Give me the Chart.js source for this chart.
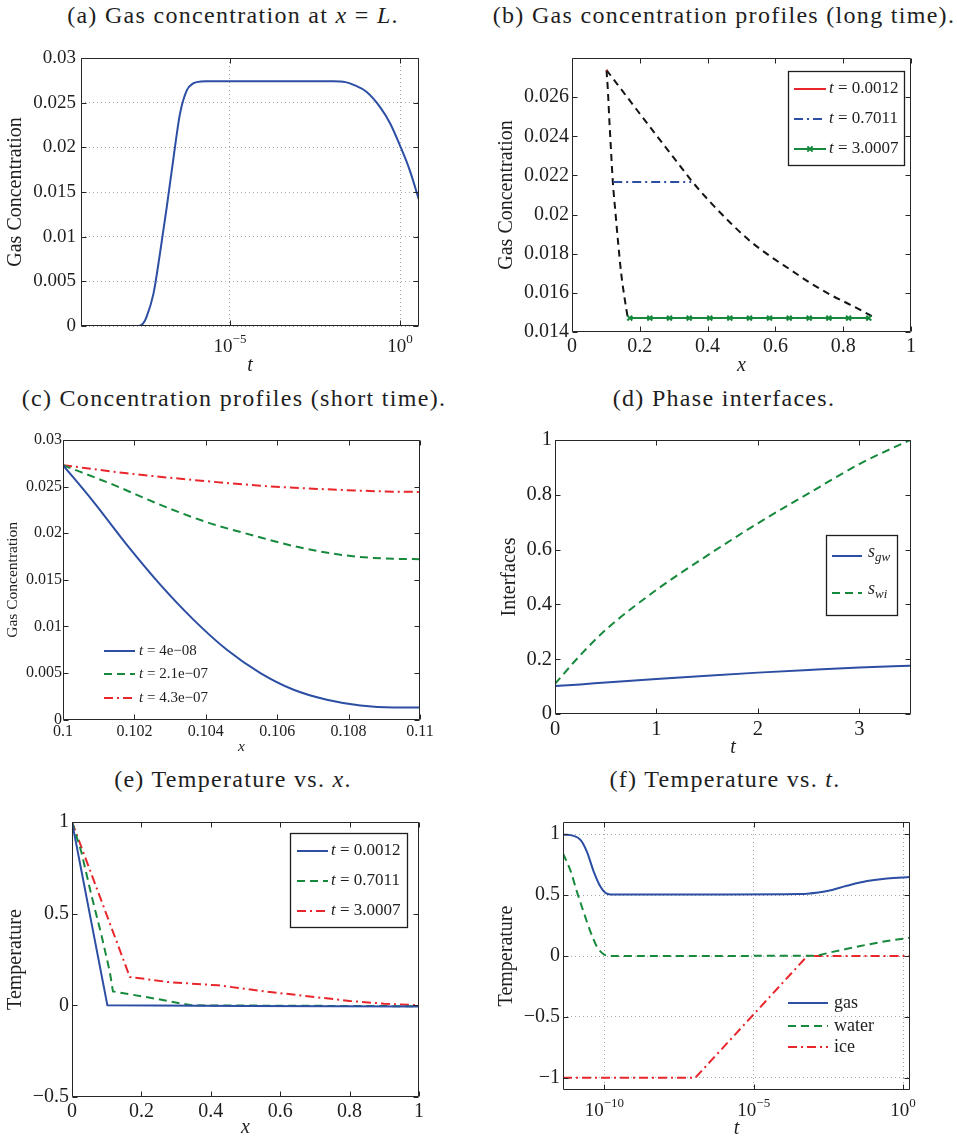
<!DOCTYPE html>
<html>
<head>
<meta charset="utf-8">
<title>Gas hydrate model results</title>
<script src="https://cdn.jsdelivr.net/npm/chart.js@4.4.1/dist/chart.umd.min.js"></script>
<style>
  body { margin: 0; background: #fff; }
  #fig { position: relative; width: 957px; height: 1139px; overflow: hidden; color: #1e1e1e; }
  .ttl, .ttl i { font-family: "Liberation Serif", "DejaVu Serif", serif !important; }
  .ttl { position: absolute; width: 480px; text-align: center; font-size: 24px;
         line-height: 24px; letter-spacing: 1.3px; white-space: nowrap; color: #1e1e1e; }
  canvas { position: absolute; }
</style>
</head>
<body>
<div id="fig">
  <div class="ttl" style="left:-7px;top:3px">(a) Gas concentration at <i>x</i> = <i>L</i>.</div>
  <div class="ttl" style="left:484px;top:3px">(b) Gas concentration profiles (long time).</div>
  <div class="ttl" style="left:-6px;top:386px">(c) Concentration profiles (short time).</div>
  <div class="ttl" style="left:484px;top:386px">(d) Phase interfaces.</div>
  <div class="ttl" style="left:-7px;top:767px">(e) Temperature vs. <i>x</i>.</div>
  <div class="ttl" style="left:485px;top:767px">(f) Temperature vs. <i>t</i>.</div>
  <canvas id="chartA"></canvas>
  <canvas id="chartB"></canvas>
  <canvas id="chartC"></canvas>
  <canvas id="chartD"></canvas>
  <canvas id="chartE"></canvas>
  <canvas id="chartF"></canvas>
</div>
<script>
Chart.defaults.font.family = '"Liberation Serif", "Times New Roman", serif';
Chart.defaults.color = "#1e1e1e";

const BLUE = "#2c4ea3", GREEN = "#16893c", RED = "#e8262b", BLACK = "#141414";
const DASH = [8, 5], DASHDOT = [9, 4, 2, 4], BLACKDASH = [7, 5];

// (a) gas concentration at the far end, log time
const aTime = [4.1e-10, 6.3e-9, 2.0e-8, 2.8e-8, 3.5e-8, 5.6e-8, 8.7e-8, 1.38e-7, 2.14e-7, 3.4e-7,
               5.4e-7, 7.9e-7, 1.05e-6, 2.0e-6, 1.1e-2, 2.5e-2, 4.3e-2, 0.105, 0.26, 0.51, 1.0, 1.95, 3.62];
const aConc = [0, 0, 0, 0.0003, 0.0010, 0.0036, 0.0081, 0.0133, 0.0186, 0.0238,
               0.0264, 0.0271, 0.0273, 0.0274, 0.0274, 0.0273, 0.0270, 0.0262, 0.0245, 0.0227, 0.0202, 0.0174, 0.0141];
const aTicksX = [1e-5, 1];
const aTicksY = [0, 0.005, 0.01, 0.015, 0.02, 0.025, 0.03];

// (b) long-time profiles plus the two black envelopes
const bEnvLeftX = [0.1018, 0.1057, 0.1106, 0.1155, 0.1205, 0.1283, 0.1362, 0.1450, 0.1558, 0.1647];
const bEnvLeftY = [0.02738, 0.02639, 0.02468, 0.02315, 0.02165, 0.02008, 0.01854, 0.01701, 0.01565, 0.01471];
const bEnvRightX = [0.1018, 0.1333, 0.1923, 0.2513, 0.3103, 0.3516, 0.4086, 0.4676, 0.5265, 0.5855,
                    0.6445, 0.7035, 0.7625, 0.8215, 0.8953];
const bEnvRightY = [0.02738, 0.02667, 0.02533, 0.024, 0.02268, 0.02175, 0.02062, 0.01957, 0.01863, 0.01786,
                    0.01718, 0.0165, 0.0159, 0.01539, 0.01471];
const bShortX = [0.1018, 0.1047];
const bShortY = [0.02738, 0.02736];
const bMidX = [0.1215, 0.3516];
const bMidY = [0.02167, 0.02167];
const bLongX = [0.1705, 0.2295, 0.2876, 0.3457, 0.4065, 0.4655, 0.5236, 0.5826, 0.6407, 0.6997, 0.7577, 0.8159, 0.8755];
const bLongY = [0.01471, 0.01471, 0.01471, 0.01471, 0.01471, 0.01471, 0.01471, 0.01471, 0.01471, 0.01471, 0.01471, 0.01471, 0.01471];
const bTimes = ["0.0012", "0.7011", "3.0007"];
const bTicksX = [0, 0.2, 0.4, 0.6, 0.8, 1];
const bTicksY = [0.014, 0.016, 0.018, 0.02, 0.022, 0.024, 0.026];

// (c) short-time profiles near the interface
const cBlueX = [0.1, 0.10085, 0.10179, 0.10273, 0.10366, 0.10459, 0.10553, 0.10646, 0.10739, 0.10833, 0.10927, 0.11];
const cBlueY = [0.0273, 0.02339, 0.01875, 0.01446, 0.01071, 0.0075, 0.005, 0.00321, 0.00214, 0.00153, 0.00132, 0.00132];
const cGreenX = [0.1, 0.10142, 0.10273, 0.10403, 0.10534, 0.10665, 0.10796, 0.10926, 0.11];
const cGreenY = [0.0273, 0.02518, 0.02304, 0.02118, 0.01975, 0.01846, 0.0176, 0.01725, 0.01722];
const cRedX = [0.1, 0.10179, 0.10366, 0.10553, 0.10739, 0.10926, 0.11];
const cRedY = [0.0273, 0.02643, 0.02571, 0.0251, 0.02471, 0.02446, 0.02443];
const cTimes = ["4e\u221208", "2.1e\u221207", "4.3e\u221207"];
const cTicksX = [0.1, 0.102, 0.104, 0.106, 0.108, 0.11];
const cTicksY = [0, 0.005, 0.01, 0.015, 0.02, 0.025, 0.03];

// (d) interface positions
const dTime = [0, 0.25, 0.5, 1, 1.5, 2, 2.5, 3, 3.5];
const dGw = [0.102, 0.108, 0.115, 0.128, 0.140, 0.151, 0.161, 0.170, 0.176];
const dWi = [0.11, 0.215, 0.307, 0.453, 0.578, 0.696, 0.805, 0.912, 1.0];
const dNames = [["s", "gw"], ["s", "wi"]];
const dTicksX = [0, 1, 2, 3];
const dTicksY = [0, 0.2, 0.4, 0.6, 0.8, 1];

// (e) temperature profiles
const eBlueX = [0, 0.102, 0.5, 1];
const eBlueY = [1, 0, -0.003, -0.006];
const eGreenX = [0, 0.027, 0.056, 0.085, 0.109, 0.118, 0.229, 0.344, 0.6, 1];
const eGreenY = [1, 0.836, 0.6, 0.382, 0.182, 0.076, 0.04, 0.0, -0.002, -0.005];
const eRedX = [0, 0.018, 0.056, 0.095, 0.133, 0.1665, 0.277, 0.421, 0.556, 0.7, 0.8, 0.9, 1];
const eRedY = [1, 0.909, 0.716, 0.518, 0.326, 0.155, 0.127, 0.109, 0.076, 0.045, 0.024, 0.009, 0.0];
const eTimes = ["0.0012", "0.7011", "3.0007"];
const eTicksX = [0, 0.2, 0.4, 0.6, 0.8, 1];
const eTicksY = [-0.5, 0, 0.5, 1];

// (f) phase temperatures against log time
const fGasT = [4.1e-12, 9.3e-12, 1.6e-11, 2.6e-11, 4.4e-11, 7.4e-11, 1.07e-10, 1.6e-10, 1e-6, 3.2e-4,
               6.2e-4, 2.9e-3, 1.3e-2, 6.2e-2, 0.29, 1.8];
const fGas = [0.997, 0.986, 0.951, 0.855, 0.691, 0.568, 0.519, 0.505, 0.505, 0.508,
              0.511, 0.533, 0.576, 0.615, 0.637, 0.648];
const fWaterT = [4.1e-12, 7.2e-12, 1.2e-11, 2.0e-11, 3.4e-11, 5.6e-11, 9.5e-11, 1.6e-10, 1.0e-3, 4.8e-3, 3.7e-2, 0.29, 1.8];
const fWater = [0.842, 0.705, 0.527, 0.363, 0.2, 0.077, 0.014, 0.0, 0.003, 0.036, 0.082, 0.123, 0.15];
const fIceT = [4.1e-12, 1.1e-7, 6.2e-4, 1.8];
const fIce = [-1, -1, 0, 0];
const fNames = ["gas", "water", "ice"];
const fTicksX = [1e-10, 1e-5, 1];
const fTicksY = [-1, -0.5, 0, 0.5, 1];

const fmt = v => String(Math.round(v * 1e6) / 1e6).replace("-", "\u2212");
const pts = (xs, ys) => xs.map((x, i) => ({ x, y: ys[i] }));
function series(xs, ys, color, dash, smooth, extra) {
  return Object.assign({
    data: pts(xs, ys), borderColor: color, backgroundColor: color, borderWidth: 2,
    borderDash: dash || [], pointRadius: 0, fill: false,
    cubicInterpolationMode: smooth ? "monotone" : "default", tension: 0
  }, extra || {});
}

// legend layouts, keyed by canvas id
const legends = {};

// MATLAB style box with inward ticks on all four sides
const framePlugin = {
  id: "frame",
  afterDatasetsDraw(chart) {
    const { ctx, chartArea: a, scales: { x, y } } = chart;
    const L = Math.round(a.left) + 0.5, R = Math.round(a.right) - 0.5;
    const T = Math.round(a.top) + 0.5, B = Math.round(a.bottom) - 0.5;
    ctx.save();
    ctx.strokeStyle = "#262626";
    ctx.lineWidth = 1;
    ctx.beginPath();
    ctx.rect(L, T, R - L, B - T);
    x.ticks.forEach(t => {
      const p = Math.round(x.getPixelForValue(t.value)) + 0.5;
      ctx.moveTo(p, B); ctx.lineTo(p, B - 5);
      ctx.moveTo(p, T); ctx.lineTo(p, T + 5);
    });
    y.ticks.forEach(t => {
      const p = Math.round(y.getPixelForValue(t.value)) + 0.5;
      ctx.moveTo(L, p); ctx.lineTo(L + 5, p);
      ctx.moveTo(R, p); ctx.lineTo(R - 5, p);
    });
    ctx.stroke();
    ctx.restore();
  }
};

// 10^n labels under logarithmic axes
const decadePlugin = {
  id: "decades",
  afterDraw(chart) {
    const x = chart.scales.x;
    if (x.type !== "logarithmic") return;
    const { ctx, chartArea } = chart;
    const base = chartArea.bottom + 26;
    const big = '19px "Liberation Serif"', small = '13px "Liberation Serif"';
    ctx.save();
    ctx.fillStyle = "#1e1e1e";
    ctx.textBaseline = "alphabetic";
    ctx.textAlign = "left";
    x.ticks.forEach(t => {
      const e = Math.round(Math.log10(t.value));
      const sup = e < 0 ? "\u2212" + (-e) : String(e);
      ctx.font = big; const wb = ctx.measureText("10").width;
      ctx.font = small; const we = ctx.measureText(sup).width;
      const left = x.getPixelForValue(t.value) - (wb + we) / 2;
      ctx.font = big; ctx.fillText("10", left, base);
      ctx.font = small; ctx.fillText(sup, left + wb, base - 9);
    });
    ctx.restore();
  }
};

// line-sample legend drawn from each dataset's own style
const legendPlugin = {
  id: "lineLegend",
  afterDraw(chart) {
    const spec = legends[chart.canvas.id];
    if (!spec) return;
    const { ctx, chartArea: a } = chart;
    const ox = Math.round(a.left + spec.at[0]), oy = Math.round(a.top + spec.at[1]);
    ctx.save();
    if (spec.box) {
      ctx.fillStyle = "#fff";
      ctx.fillRect(ox, oy, spec.box[0], spec.box[1]);
      ctx.strokeStyle = "#1e1e1e";
      ctx.lineWidth = 1.3;
      ctx.strokeRect(ox + 0.5, oy + 0.5, spec.box[0], spec.box[1]);
    }
    spec.entries.forEach((ent, i) => {
      const ds = chart.data.datasets[ent.ds];
      const ry = oy + spec.rows[i];
      ctx.strokeStyle = ds.borderColor;
      ctx.lineWidth = ds.borderWidth;
      ctx.setLineDash(ds.borderDash || []);
      ctx.beginPath();
      ctx.moveTo(ox + spec.line[0], ry);
      ctx.lineTo(ox + spec.line[1], ry);
      ctx.stroke();
      ctx.setLineDash([]);
      if (ds.pointRadius > 0) {
        const cx = ox + (spec.line[0] + spec.line[1]) / 2, r = ds.pointRadius * 0.75;
        ctx.lineWidth = ds.pointBorderWidth;
        ctx.beginPath();
        ctx.moveTo(cx - r, ry - r); ctx.lineTo(cx + r, ry + r);
        ctx.moveTo(cx - r, ry + r); ctx.lineTo(cx + r, ry - r);
        ctx.stroke();
      }
      let tx = ox + spec.textX;
      ctx.fillStyle = "#1e1e1e";
      ctx.textBaseline = "middle";
      ent.parts.forEach(([txt, st]) => {
        const sub = st === "sub";
        const size = sub ? spec.size * 0.72 : spec.size;
        ctx.font = (st ? "italic " : "") + size + 'px "Liberation Serif"';
        ctx.fillText(txt, tx, ry + (spec.dy || 0) + (sub ? spec.size * 0.3 : 0));
        tx += ctx.measureText(txt).width;
      });
    });
    ctx.restore();
  }
};

Chart.register(framePlugin, decadePlugin, legendPlugin);

function buildChart(id, g, datasets, ax) {
  const canvas = document.getElementById(id);
  const left = g.col === 0 ? 0 : 479, top = g.T - 30;
  const scaleLeft = g.yTitleX - 0.6 * g.titleSize;
  const scaleBottom = g.xTitleY + 0.6 * g.titleSize;
  canvas.width = 478;
  canvas.height = Math.round(scaleBottom - top);
  canvas.style.left = left + "px";
  canvas.style.top = top + "px";
  const axis = (o, isX) => ({
    type: o.type || "linear",
    min: o.min,
    max: o.max,
    afterBuildTicks: s => { s.ticks = o.ticks.map(v => ({ value: v })); },
    afterFit: s => {
      if (isX) s.height = scaleBottom - g.B;
      else s.width = g.L - scaleLeft;
    },
    grid: o.grid ? { color: "#a8a8a8", lineWidth: 1, drawTicks: false, tickLength: 0 }
                 : { display: false, drawTicks: false, tickLength: 0 },
    border: { display: false, dash: [1, 3] },
    ticks: {
      display: o.type !== "logarithmic",
      font: { size: g.tickSize },
      color: "#1e1e1e",
      padding: isX ? g.padX : g.padY,
      autoSkip: false,
      maxRotation: 0,
      callback: v => fmt(v)
    },
    title: {
      display: true, text: o.title, padding: 0, color: "#1e1e1e",
      font: { size: g.titleSize, style: isX ? "italic" : "normal" }
    }
  });
  return new Chart(canvas, {
    type: "line",
    data: { datasets },
    options: {
      responsive: false,
      animation: false,
      events: [],
      layout: { padding: { left: scaleLeft - left, top: 30, right: left + 478 - g.R, bottom: 0 } },
      plugins: { legend: { display: false }, tooltip: { enabled: false } },
      scales: { x: axis(ax.x, true), y: axis(ax.y, false) }
    }
  });
}

// (a)
buildChart("chartA",
  { col: 0, L: 81, T: 58, R: 419, B: 326, yTitleX: 16, xTitleY: 366, titleSize: 20, tickSize: 19, padX: 3, padY: 5 },
  [series(aTime, aConc, BLUE, [], true)],
  { x: { type: "logarithmic", min: 4.15e-10, max: 3.62, ticks: aTicksX, grid: true, title: "t" },
    y: { min: 0, max: 0.03, ticks: aTicksY, grid: true, title: "Gas Concentration" } });

// (b)
legends.chartB = {
  at: [216, 13], box: [116, 94], line: [6, 38], textX: 41, rows: [18, 48, 78], size: 17,
  entries: bTimes.map((t, i) => ({ ds: i, parts: [["t", "i"], [" = " + t, ""]] }))
};
buildChart("chartB",
  { col: 1, L: 572, T: 58, R: 911, B: 332, yTitleX: 507, xTitleY: 366, titleSize: 20, tickSize: 20, padX: 3, padY: 3 },
  [series(bShortX, bShortY, RED, [], false),
   series(bMidX, bMidY, BLUE, DASHDOT, false),
   series(bLongX, bLongY, GREEN, [], false,
          { pointRadius: 3.5, pointStyle: "crossRot", pointBorderWidth: 2, pointBorderColor: GREEN }),
   series(bEnvLeftX, bEnvLeftY, BLACK, BLACKDASH, true),
   series(bEnvRightX, bEnvRightY, BLACK, BLACKDASH, true)],
  { x: { min: 0, max: 1, ticks: bTicksX, title: "x" },
    y: { min: 0.014, max: 0.028, ticks: bTicksY, title: "Gas Concentration" } });

// (c)
legends.chartC = {
  at: [0, 0], line: [41, 72], textX: 76, rows: [211, 234, 258], size: 15,
  entries: cTimes.map((t, i) => ({ ds: i, parts: [["t", "i"], [" = " + t, ""]] }))
};
buildChart("chartC",
  { col: 0, L: 63, T: 440, R: 420, B: 720, yTitleX: 13, xTitleY: 747, titleSize: 15.5, tickSize: 16, padX: 2, padY: 1 },
  [series(cBlueX, cBlueY, BLUE, [], true),
   series(cGreenX, cGreenY, GREEN, DASH, true),
   series(cRedX, cRedY, RED, DASHDOT, true)],
  { x: { min: 0.1, max: 0.11, ticks: cTicksX, title: "x" },
    y: { min: 0, max: 0.03, ticks: cTicksY, title: "Gas Concentration" } });

// (d)
legends.chartD = {
  at: [271, 95], box: [71, 80], line: [6, 36], textX: 42, rows: [21, 58], size: 18, dy: -4,
  entries: dNames.map((n, i) => ({ ds: i, parts: [[n[0], "i"], [n[1], "sub"]] }))
};
buildChart("chartD",
  { col: 1, L: 555, T: 440, R: 911, B: 714, yTitleX: 510, xTitleY: 748, titleSize: 20, tickSize: 20.5, padX: 3, padY: 3 },
  [series(dTime, dGw, BLUE, [], true),
   series(dTime, dWi, GREEN, DASH, true)],
  { x: { min: 0, max: 3.51, ticks: dTicksX, title: "t" },
    y: { min: 0, max: 1, ticks: dTicksY, title: "Interfaces" } });

// (e)
legends.chartE = {
  at: [218, 11], box: [117, 94], line: [7, 38], textX: 41, rows: [18, 48, 78], size: 17,
  entries: eTimes.map((t, i) => ({ ds: i, parts: [["t", "i"], [" = " + t, ""]] }))
};
buildChart("chartE",
  { col: 0, L: 72, T: 822, R: 419, B: 1097, yTitleX: 16, xTitleY: 1128, titleSize: 20, tickSize: 20, padX: 3, padY: 3 },
  [series(eBlueX, eBlueY, BLUE, [], false),
   series(eGreenX, eGreenY, GREEN, DASH, false),
   series(eRedX, eRedY, RED, DASHDOT, false)],
  { x: { min: 0, max: 1, ticks: eTicksX, title: "x" },
    y: { min: -0.5, max: 1, ticks: eTicksY, title: "Temperature" } });

// (f)
legends.chartF = {
  at: [0, 0], line: [225, 265], textX: 271, rows: [181, 204, 225], size: 18,
  entries: fNames.map((n, i) => ({ ds: i, parts: [[n, ""]] }))
};
buildChart("chartF",
  { col: 1, L: 563, T: 822, R: 910, B: 1090, yTitleX: 507, xTitleY: 1129, titleSize: 20, tickSize: 20, padX: 3, padY: 3 },
  [series(fGasT, fGas, BLUE, [], true),
   series(fWaterT, fWater, GREEN, DASH, true),
   series(fIceT, fIce, RED, DASHDOT, false)],
  { x: { type: "logarithmic", min: 4.1e-12, max: 1.7, ticks: fTicksX, grid: true, title: "t" },
    y: { min: -1.1, max: 1.1, ticks: fTicksY, grid: true, title: "Temperature" } });
</script>
</body>
</html>
